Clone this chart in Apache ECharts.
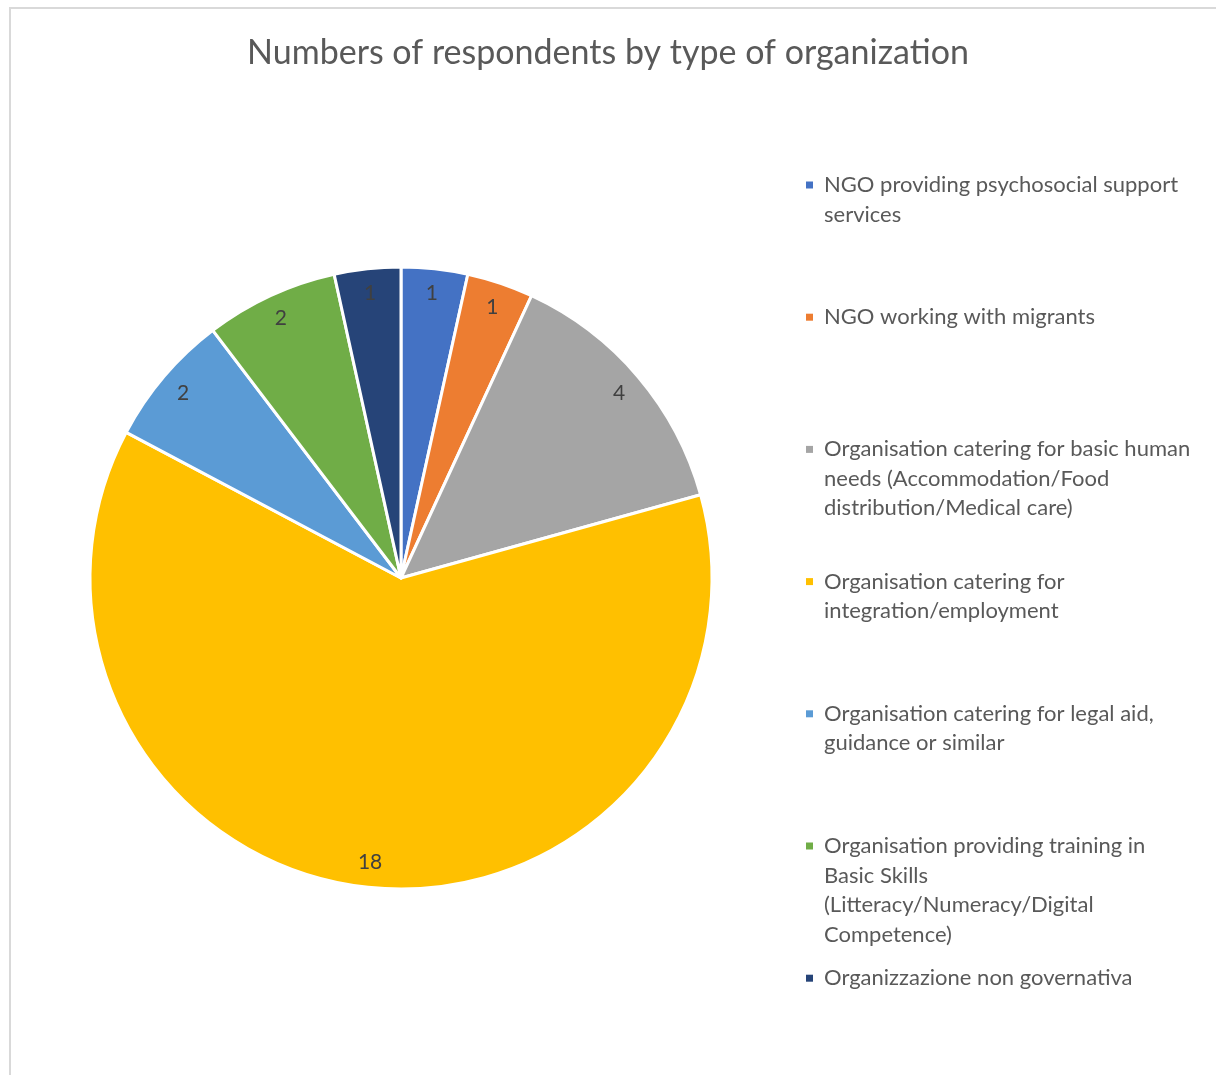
<!DOCTYPE html>
<html>
<head>
<meta charset="utf-8">
<script src="https://cdn.jsdelivr.net/npm/echarts@6/dist/echarts.min.js"></script>
<style>
    html, body { margin: 0; padding: 0; background: #fff; }
    #chart { width: 1216px; height: 1075px; }
</style>
</head>
<body>
<div id="chart"></div>
<script>
    // data
    var categories = [
        'NGO providing psychosocial support services',
        'NGO working with migrants',
        'Organisation catering for basic human needs (Accommodation/Food distribution/Medical care)',
        'Organisation catering for integration/employment',
        'Organisation catering for legal aid, guidance or similar',
        'Organisation providing training in Basic Skills (Litteracy/Numeracy/Digital Competence)',
        'Organizzazione non governativa'
    ];
    var counts = [1, 1, 4, 18, 2, 2, 1];
    var colors = ['#4472C4', '#ED7D31', '#A5A5A5', '#FFC000', '#5B9BD5', '#70AD47', '#264478'];
    // legend text wrapped the way it is in the picture
    var legendLines = [
        ['NGO providing psychosocial support', 'services'],
        ['NGO working with migrants'],
        ['Organisation catering for basic human', 'needs (Accommodation/Food', 'distribution/Medical care)'],
        ['Organisation catering for', 'integration/employment'],
        ['Organisation catering for legal aid,', 'guidance or similar'],
        ['Organisation providing training in', 'Basic Skills', '(Litteracy/Numeracy/Digital', 'Competence)'],
        ['Organizzazione non governativa']
    ];

    var FONT = 'Lato, "Open Sans", sans-serif';
    var lineH = 29.5;

    var pieData = categories.map(function (name, i) {
        return { name: name, value: counts[i], itemStyle: { color: colors[i] } };
    });

    var rich = {
        gap: { width: 11 },
        sp: { width: 18 },
        t: { fontSize: 22, lineHeight: lineH, color: '#595959', fontFamily: FONT }
    };
    colors.forEach(function (c, i) {
        rich['sq' + i] = { width: 7, height: 7, backgroundColor: c, verticalAlign: 'middle', fontSize: 1 };
    });

    var legends = categories.map(function (name, i) {
        return {
            data: [name],
            left: 801,
            top: 174 + i * 132.2,
            icon: 'none',
            itemWidth: 0,
            selectedMode: false,
            padding: 0,
            textStyle: { rich: rich, fontFamily: FONT },
            formatter: function () {
                return legendLines[i].map(function (line, k) {
                    return (k === 0 ? '{sq' + i + '| }{gap| }' : '{sp| }') + '{t|' + line + '}';
                }).join('\n');
            }
        };
    });

    var chart = echarts.init(document.getElementById('chart'));
    chart.setOption({
        backgroundColor: '#fff',
        animation: false,
        title: {
            text: 'Numbers of respondents by type of organization',
            left: 'center',
            top: 31,
            textStyle: { fontSize: 34, fontWeight: 'normal', color: '#595959', fontFamily: FONT }
        },
        graphic: [{
            type: 'rect',
            shape: { x: 10, y: 8, width: 1400, height: 1300 },
            style: { fill: 'none', stroke: '#d9d9d9', lineWidth: 2 },
            silent: true
        }],
        legend: legends,
        series: [
            {
                type: 'pie',
                center: [401, 578],
                radius: 311,
                startAngle: 90,
                clockwise: true,
                data: pieData,
                itemStyle: { borderColor: '#fff', borderWidth: 3 },
                label: { show: false },
                labelLine: { show: false }
            },
            {
                // transparent ring only used to place the value labels near the rim
                type: 'pie',
                center: [401, 578],
                radius: [255, 311],
                startAngle: 90,
                clockwise: true,
                silent: true,
                data: pieData.map(function (d) { return { name: d.name, value: d.value }; }),
                itemStyle: { color: 'rgba(0,0,0,0)', borderWidth: 0 },
                label: {
                    show: true,
                    position: 'inside',
                    formatter: '{c}',
                    fontSize: 21,
                    color: '#404040',
                    fontFamily: FONT
                },
                labelLine: { show: false }
            }
        ]
    });
</script>
</body>
</html>
